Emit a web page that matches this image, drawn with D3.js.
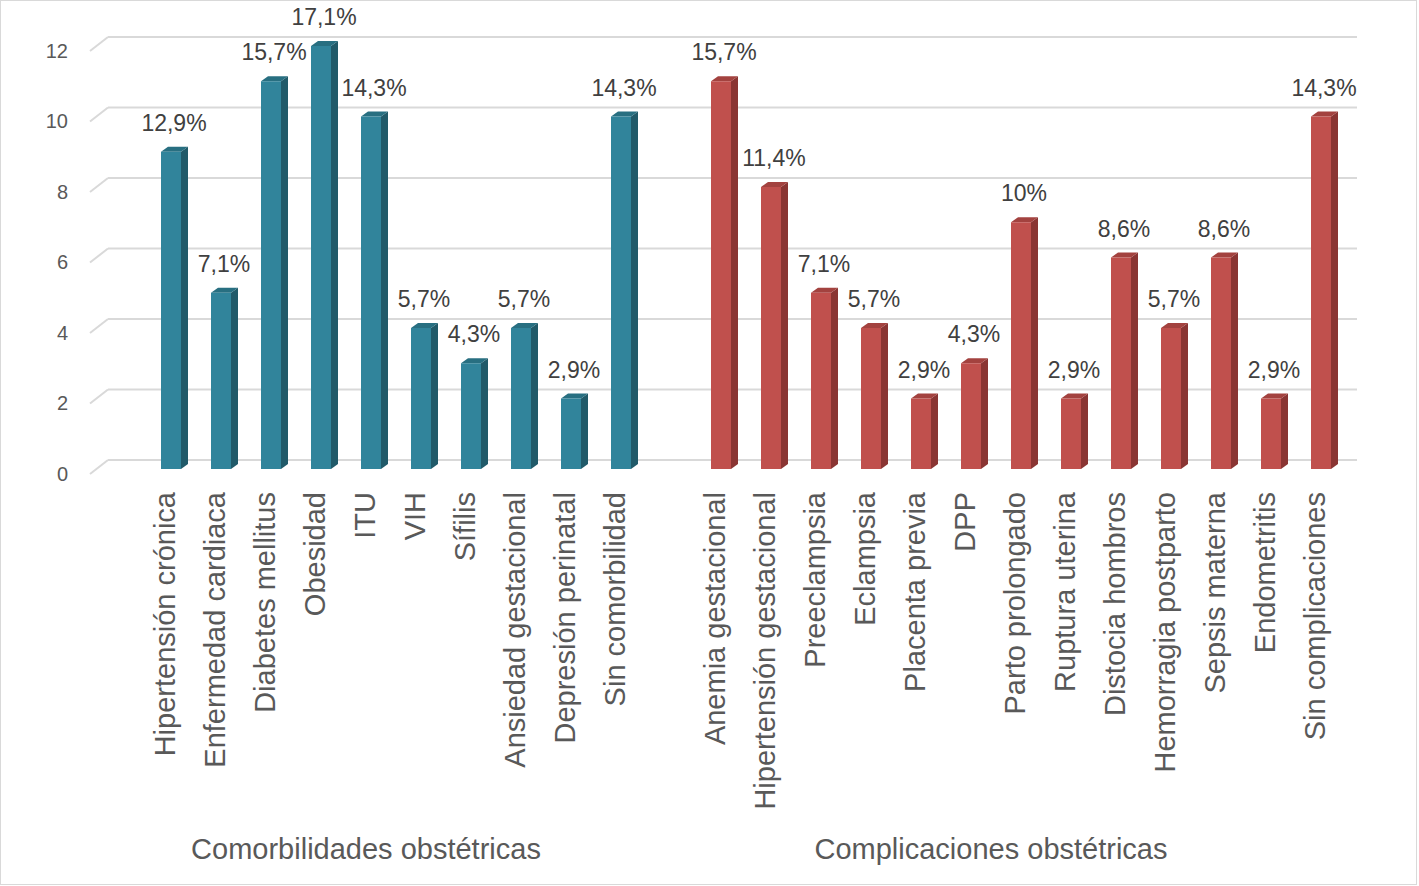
<!DOCTYPE html>
<html>
<head>
<meta charset="utf-8">
<script src="https://cdn.jsdelivr.net/npm/d3@7"></script>
<style>
  html, body { margin: 0; padding: 0; background: #fff; }
  svg text { font-family: "Liberation Sans", Arial, sans-serif; }
</style>
</head>
<body>
<div id="diagram"></div>
<script>
// data
const comorbidities = ['Hipertensión crónica', 'Enfermedad cardiaca', 'Diabetes mellitus', 'Obesidad', 'ITU', 'VIH', 'Sífilis', 'Ansiedad gestacional', 'Depresión perinatal', 'Sin comorbilidad'];
const comorbidityCounts = [9, 5, 11, 12, 10, 4, 3, 4, 2, 10];
const comorbidityLabels = ['12,9%', '7,1%', '15,7%', '17,1%', '14,3%', '5,7%', '4,3%', '5,7%', '2,9%', '14,3%'];

const complications = ['Anemia gestacional', 'Hipertensión gestacional', 'Preeclampsia', 'Eclampsia', 'Placenta previa', 'DPP', 'Parto prolongado', 'Ruptura uterina', 'Distocia hombros', 'Hemorragia postparto', 'Sepsis materna', 'Endometritis', 'Sin complicaciones'];
const complicationCounts = [11, 8, 5, 4, 2, 3, 7, 2, 6, 4, 6, 2, 10];
const complicationLabels = ['15,7%', '11,4%', '7,1%', '5,7%', '2,9%', '4,3%', '10%', '2,9%', '8,6%', '5,7%', '8,6%', '2,9%', '14,3%'];

const groupTitles = ['Comorbilidades obstétricas', 'Complicaciones obstétricas'];
const yTicks = [0, 2, 4, 6, 8, 10, 12];

!(function () {
  'use strict';
  // - - - - - - - - - -
  let
    canvas = undefined,
    svg = undefined,
    xScale = undefined,
    yScale = undefined,
    rows = undefined,
    keys = undefined,
    colors = undefined,
    depth = undefined;

  canvas = { width: 1419, height: 886 };
  depth = { dx: 7, dy: 5, wallX: 18, wallY: 9, floorY: 5 };
  colors = {
    teal: { front: '#31849b', side: '#215a69', top: '#286f81' },
    red: { front: '#c0504d', side: '#8a3533', top: '#a3423f' }
  };

  // one row per slot, with a blank slot between the two groups
  rows = [];
  comorbidities.forEach(function (name, i) {
    rows.push({ key: 'a' + i, name: name, value: comorbidityCounts[i], label: comorbidityLabels[i], group: 0, color: colors.teal });
  });
  rows.push({ key: 'gap', name: '', value: null, group: -1 });
  complications.forEach(function (name, i) {
    rows.push({ key: 'b' + i, name: name, value: complicationCounts[i], label: complicationLabels[i], group: 1, color: colors.red });
  });
  keys = rows.map(function (d) { return d.key; });

  svg = d3.select('#diagram')
    .append('svg')
    .attr('width', canvas.width)
    .attr('height', canvas.height);

  svg.append('rect')
    .attr('x', 0.5).attr('y', 0.5)
    .attr('width', canvas.width - 3).attr('height', canvas.height - 2)
    .attr('fill', '#fff')
    .attr('stroke', '#d9d9d9');

  xScale = d3.scaleBand().domain(keys).range([146, 1346]).padding(0);
  yScale = d3.scaleLinear().domain([0, 12]).range([469, 46]);

  // back wall gridlines + floor diagonals
  let grid = svg.append('g');
  grid.selectAll('line.back')
    .data(yTicks)
    .join('line')
    .attr('x1', 108).attr('x2', 1357)
    .attr('y1', function (d) { return yScale(d) - depth.wallY; })
    .attr('y2', function (d) { return yScale(d) - depth.wallY; })
    .attr('stroke', '#d9d9d9').attr('stroke-width', 2);
  grid.selectAll('line.side')
    .data(yTicks)
    .join('line')
    .attr('x1', 90).attr('x2', 108)
    .attr('y1', function (d) { return yScale(d) + depth.floorY; })
    .attr('y2', function (d) { return yScale(d) - depth.wallY; })
    .attr('stroke', '#d9d9d9').attr('stroke-width', 2);

  // y axis
  let yAxis = svg.append('g')
    .attr('transform', 'translate(68, ' + depth.floorY + ')')
    .call(d3.axisLeft(yScale).tickValues(yTicks).tickSize(0).tickPadding(0));
  yAxis.select('.domain').remove();
  yAxis.selectAll('text')
    .attr('font-size', 20)
    .attr('font-family', '"Liberation Sans", Arial, sans-serif')
    .attr('fill', '#595959');

  // bars
  let bw = xScale.bandwidth() * 0.4;
  let bars = svg.append('g')
    .selectAll('g')
    .data(rows.filter(function (d) { return d.value !== null; }))
    .join('g');

  bars.append('path')
    .attr('fill', function (d) { return d.color.side; })
    .attr('d', function (d) {
      let x0 = xScale(d.key) + (xScale.bandwidth() - bw) / 2 + bw,
        t = yScale(d.value), b = yScale(0);
      return 'M' + x0 + ',' + t + 'L' + (x0 + depth.dx) + ',' + (t - depth.dy) +
        'L' + (x0 + depth.dx) + ',' + (b - depth.dy) + 'L' + x0 + ',' + b + 'Z';
    });
  bars.append('path')
    .attr('fill', function (d) { return d.color.top; })
    .attr('d', function (d) {
      let x0 = xScale(d.key) + (xScale.bandwidth() - bw) / 2,
        t = yScale(d.value);
      return 'M' + x0 + ',' + t + 'L' + (x0 + depth.dx) + ',' + (t - depth.dy) +
        'L' + (x0 + bw + depth.dx) + ',' + (t - depth.dy) + 'L' + (x0 + bw) + ',' + t + 'Z';
    });
  bars.append('rect')
    .attr('x', function (d) { return xScale(d.key) + (xScale.bandwidth() - bw) / 2; })
    .attr('y', function (d) { return yScale(d.value); })
    .attr('width', bw)
    .attr('height', function (d) { return yScale(0) - yScale(d.value); })
    .attr('fill', function (d) { return d.color.front; });

  // value labels
  bars.append('text')
    .attr('x', function (d) { return xScale(d.key) + xScale.bandwidth() / 2 + 3; })
    .attr('y', function (d) { return yScale(d.value) - 21; })
    .attr('text-anchor', 'middle')
    .attr('font-size', 23)
    .attr('fill', '#404040')
    .text(function (d) { return d.label; });

  // category axis
  let xAxis = svg.append('g')
    .attr('transform', 'translate(0, 492)')
    .call(d3.axisBottom(xScale).tickSize(0).tickFormat(function (k) {
      return rows[keys.indexOf(k)].name;
    }));
  xAxis.select('.domain').remove();
  xAxis.selectAll('text')
    .attr('x', 0).attr('y', 0).attr('dy', 0)
    .attr('transform', 'translate(4,0) rotate(-90)')
    .attr('text-anchor', 'end')
    .attr('font-size', 29)
    .attr('font-family', '"Liberation Sans", Arial, sans-serif')
    .attr('fill', '#595959');

  // group titles
  svg.append('g')
    .selectAll('text')
    .data(groupTitles)
    .join('text')
    .attr('x', function (d, g) {
      let ks = rows.filter(function (r) { return r.group === g; }).map(function (r) { return r.key; });
      return (xScale(ks[0]) + xScale(ks[ks.length - 1]) + xScale.bandwidth()) / 2 - 30;
    })
    .attr('y', 859)
    .attr('text-anchor', 'middle')
    .attr('font-size', 29)
    .attr('fill', '#595959')
    .text(function (d) { return d; });
  // - - - - - - - - - -
}());
</script>
</body>
</html>
